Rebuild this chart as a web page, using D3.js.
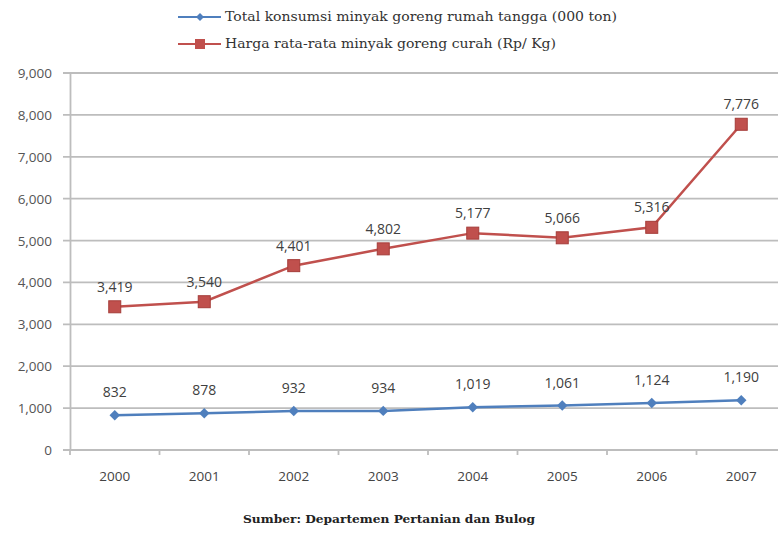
<html>
  <head>
    <script src="https://cdnjs.cloudflare.com/ajax/libs/d3/7.8.5/d3.min.js"></script>
    <style>
      body { margin: 0; background: #fff; }
      svg { display: block; }
    </style>
  </head>
  <body>
    <svg id="chart" width="778" height="536"></svg>
    <script>
      // data
      const years = ["2000", "2001", "2002", "2003", "2004", "2005", "2006", "2007"];
      const konsumsi = [832, 878, 932, 934, 1019, 1061, 1124, 1190];
      const harga = [3419, 3540, 4401, 4802, 5177, 5066, 5316, 7776];
      const yTicks = [0, 1000, 2000, 3000, 4000, 5000, 6000, 7000, 8000, 9000];
      const seriesNames = [
        "Total konsumsi minyak goreng rumah tangga (000 ton)",
        "Harga rata-rata minyak goreng curah (Rp/ Kg)"
      ];
      const sourceNote = "Sumber: Departemen Pertanian dan Bulog";

      const svg = d3.select("#chart");
      const blue = "#4f7fbd", red = "#c0504d";
      const sans = "'Open Sans', 'Noto Sans', sans-serif";
      const serif = "'DejaVu Serif', serif";

      const x = d3.scaleBand().domain(years).range([70, 786]);
      const y = d3.scaleLinear().domain([0, 9000]).range([450, 73]);
      const fmt = d3.format(",");

      // gridlines
      svg.append("g")
        .selectAll("line")
        .data(yTicks)
        .enter()
        .append("line")
        .attr("x1", 63).attr("x2", 778)
        .attr("y1", d => y(d)).attr("y2", d => y(d))
        .style("stroke", "#bdbdbd")
        .style("stroke-width", 1.8);

      // y axis line
      svg.append("line")
        .attr("x1", 70.5).attr("x2", 70.5)
        .attr("y1", y(9000)).attr("y2", y(0))
        .style("stroke", "#bdbdbd").style("stroke-width", 1.8);

      // x ticks at band edges
      svg.append("g")
        .selectAll("line")
        .data(years)
        .enter()
        .append("line")
        .attr("x1", d => x(d)).attr("x2", d => x(d))
        .attr("y1", y(0)).attr("y2", y(0) + 5)
        .style("stroke", "#bdbdbd").style("stroke-width", 1.8);

      // y tick labels
      svg.append("g")
        .selectAll("text")
        .data(yTicks)
        .enter()
        .append("text")
        .attr("x", 52).attr("y", d => y(d) + 5)
        .attr("text-anchor", "end")
        .style("font-family", sans)
        .style("font-size", "13.5px")
        .style("fill", "#555")
        .text(d => fmt(d));

      // x labels
      svg.append("g")
        .selectAll("text")
        .data(years)
        .enter()
        .append("text")
        .attr("x", d => x(d) + x.bandwidth() / 2)
        .attr("y", 481)
        .attr("text-anchor", "middle")
        .style("font-family", sans)
        .style("font-size", "13.5px")
        .style("fill", "#444")
        .text(d => d);

      const cx = (d, i) => x(years[i]) + x.bandwidth() / 2;
      const line = d3.line().x(cx).y(d => y(d));

      // red series
      svg.append("path")
        .datum(harga)
        .attr("d", line)
        .style("fill", "none").style("stroke", red).style("stroke-width", 2.5);
      svg.append("g")
        .selectAll("rect")
        .data(harga)
        .enter()
        .append("rect")
        .attr("x", (d, i) => cx(d, i) - 6)
        .attr("y", d => y(d) - 6)
        .attr("width", 12).attr("height", 12)
        .style("fill", red).style("stroke", "#a53c39").style("stroke-width", 1);

      // blue series
      svg.append("path")
        .datum(konsumsi)
        .attr("d", line)
        .style("fill", "none").style("stroke", blue).style("stroke-width", 2.5);
      svg.append("g")
        .selectAll("path")
        .data(konsumsi)
        .enter()
        .append("path")
        .attr("d", d3.symbol().type(d3.symbolDiamond2).size(70))
        .attr("transform", (d, i) => "translate(" + cx(d, i) + "," + y(d) + ")")
        .style("fill", blue);

      // data labels
      const labels = svg.append("g")
        .style("font-family", sans)
        .style("font-size", "14px")
        .style("fill", "#404040")
        .attr("text-anchor", "middle");
      labels.selectAll("text.h")
        .data(harga)
        .enter()
        .append("text")
        .attr("class", "h")
        .attr("x", cx)
        .attr("y", d => y(d) - 15)
        .text(d => fmt(d));
      labels.selectAll("text.k")
        .data(konsumsi)
        .enter()
        .append("text")
        .attr("class", "k")
        .attr("x", cx)
        .attr("y", d => y(d) - 18)
        .text(d => fmt(d));

      // legend
      const legend = svg.append("g");
      const colors = [blue, red];
      const legendWidths = [392, 331];
      seriesNames.forEach((name, i) => {
        const ly = 17 + i * 27;
        legend.append("line")
          .attr("x1", 178).attr("x2", 221)
          .attr("y1", ly).attr("y2", ly)
          .style("stroke", colors[i]).style("stroke-width", 2);
        if (i === 0) {
          legend.append("path")
            .attr("d", d3.symbol().type(d3.symbolDiamond2).size(40))
            .attr("transform", "translate(200," + ly + ")")
            .style("fill", blue);
        } else {
          legend.append("rect")
            .attr("x", 195).attr("y", ly - 5)
            .attr("width", 10).attr("height", 10)
            .style("fill", red);
        }
        legend.append("text")
          .attr("x", 225).attr("y", ly + 4)
          .attr("textLength", legendWidths[i])
          .attr("lengthAdjust", "spacingAndGlyphs")
          .style("font-family", serif)
          .style("font-size", "12.5px")
          .style("fill", "#333")
          .text(name);
      });

      // source note
      svg.append("text")
        .attr("x", 243).attr("y", 523)
        .attr("textLength", 292)
        .attr("lengthAdjust", "spacingAndGlyphs")
        .style("font-family", serif)
        .style("font-size", "11.5px")
        .style("font-weight", "bold")
        .style("fill", "#222")
        .text(sourceNote);
    </script>
  </body>
</html>
